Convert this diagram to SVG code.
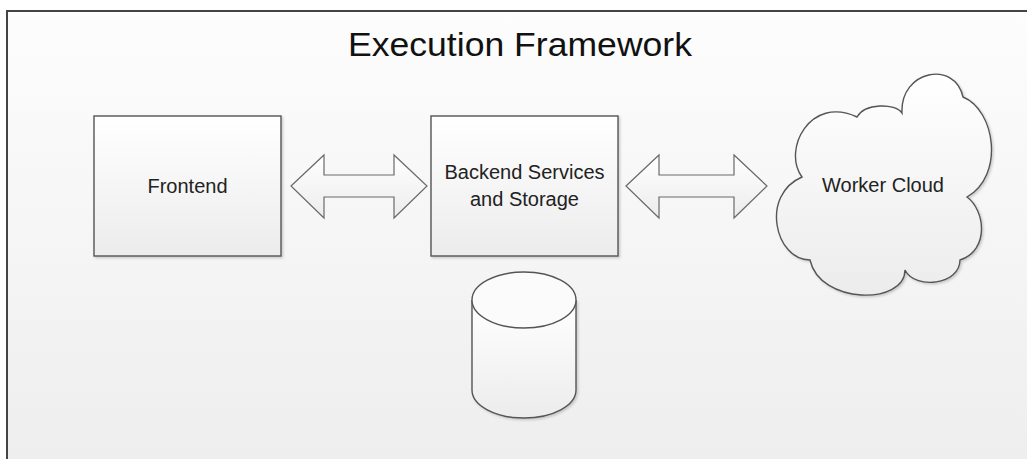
<svg xmlns="http://www.w3.org/2000/svg" width="1027" height="459" viewBox="0 0 1027 459">
  <defs>
    <linearGradient id="bg" x1="0" y1="0" x2="0" y2="1">
      <stop offset="0" stop-color="#fdfdfd"/>
      <stop offset="1" stop-color="#eeeeee"/>
    </linearGradient>
    <linearGradient id="shapeFill" x1="0" y1="0" x2="0" y2="1">
      <stop offset="0" stop-color="#ffffff"/>
      <stop offset="1" stop-color="#ececec"/>
    </linearGradient>
    <filter id="shadow" x="-10%" y="-10%" width="130%" height="130%">
      <feDropShadow dx="1.5" dy="1.5" stdDeviation="1" flood-color="#000" flood-opacity="0.18"/>
    </filter>
  </defs>
  <style>
    .shape { fill: url(#shapeFill); stroke: #555; stroke-width: 1.4; filter: url(#shadow); }
    .arrow { fill: url(#shapeFill); stroke: #6a6a6a; stroke-width: 1.2; }
    .label { font-family: "Liberation Sans", Arial, sans-serif; font-size: 20px; fill: #222; text-anchor: middle; }
    .title { font-family: "Liberation Sans", Arial, sans-serif; font-size: 34px; fill: #111; text-anchor: middle; }
  </style>

  <rect width="1027" height="459" fill="#ffffff"/>

  <!-- framework container -->
  <g id="framework">
    <rect x="7" y="11" width="1020" height="448" fill="url(#bg)"/>
    <path d="M7,459 V11 H1027" fill="none" stroke="#444" stroke-width="2"/>
    <text class="title" x="520" y="56" textLength="344" lengthAdjust="spacingAndGlyphs">Execution Framework</text>
  </g>

  <!-- bidirectional block arrows -->
  <g id="connectors">
    <path class="arrow" d="M291,186 L324,155 L324,175 L394,175 L394,155 L427,186 L394,218 L394,197 L324,197 L324,218 Z"/>
    <path class="arrow" d="M626,186 L659,155 L659,175 L734,175 L734,155 L767,186 L734,218 L734,197 L659,197 L659,218 Z"/>
  </g>

  <g id="frontend">
    <rect class="shape" x="94" y="116" width="187" height="140"/>
    <text class="label" x="187.5" y="193">Frontend</text>
  </g>

  <g id="backend">
    <rect class="shape" x="431" y="116" width="187" height="140"/>
    <text class="label" x="524.5" y="179">Backend Services</text>
    <text class="label" x="524.5" y="206">and Storage</text>
  </g>

  <g id="worker-cloud">
    <path class="shape" d="M802,177 C782,150 810,95 857,117 C865,103 895,103 902,113 C900,70 955,60 963,97 C995,110 1005,175 967,197 C985,210 990,250 960,260 C960,285 915,290 905,270 C905,305 820,305 810,260 C775,260 760,195 802,177 Z"/>
    <text class="label" x="883" y="192">Worker Cloud</text>
  </g>

  <g id="storage">
    <path class="shape" d="M472,300 V390 A52,28 0 0 0 576,390 V300"/>
    <ellipse cx="524" cy="300" rx="52" ry="28" fill="#fbfbfb" stroke="#555" stroke-width="1.4"/>
  </g>
</svg>
